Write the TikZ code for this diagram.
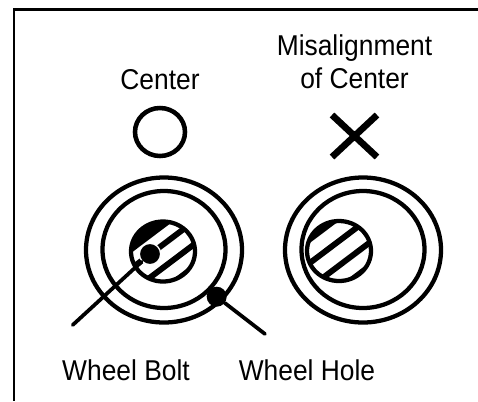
\documentclass[tikz,border=0pt]{standalone}
\usepackage{fontspec}
\setmainfont{Liberation Sans}
\usetikzlibrary{positioning}
\tikzset{
  wheelline/.style={line width=3.2pt},
  caption/.style={font=\fontsize{21.5}{24.75}\selectfont,align=center,inner sep=0pt,xscale=0.92,transform shape},
  pindot/.style={circle,fill=black,inner sep=0pt,minimum size=15pt},
  leader/.style={line width=2.8pt,line cap=round}
}
\newcommand{\hubhatch}[6]{
  \begin{scope}
  \clip (#1,#2) ellipse (32 and 30);
  \begin{scope}[shift={(#1,#2)},rotate=37]
  \fill (-50,-50) rectangle (50,#3);
  \fill (-50,#6) rectangle (50,50);
  \foreach \d in {#4,#5} \draw[line width=4.4pt] (-50,\d) -- (50,\d);
  \end{scope}
  \end{scope}
  \draw[wheelline] (#1,#2) ellipse (32 and 30);
}
\begin{document}
\begin{tikzpicture}[x=0.75pt,y=-0.75pt]
\useasboundingbox (0,0) rectangle (478,401);
\draw[line width=2.1pt] (478,9.5) -- (14,9.5) -- (14,401);
\node[caption,anchor=base] (center) at (160,89) {Center};
\node[caption] (misalign) at (354.5,61.5) {Misalignment\\of Center};
\draw[line width=3.4pt] (160,132) ellipse (25 and 24);
\draw[line width=5pt] (332,115) -- (377,157) (332,157) -- (377,115);
\foreach \cx in {164,363} {
  \draw[wheelline] (\cx,250) ellipse (78 and 72.5);
  \draw[wheelline] (\cx,249.5) ellipse (61.5 and 58.5);
}
\hubhatch{163}{251.5}{-18}{-5.5}{13}{28}
\hubhatch{339}{251}{-24}{-8}{11.7}{27.5}
\node[pindot,draw=white,line width=1pt,minimum size=16pt] (bolt) at (150,254) {};
\node[pindot] (hole) at (216.7,296.7) {};
\coordinate (boltend) at (72.7,325);
\coordinate (holeend) at (265,334);
\draw[leader] (bolt) -- (boltend);
\draw[leader] (hole) -- (holeend);
\node[caption,anchor=base] (boltlabel) at (126,380.7) {Wheel Bolt};
\node[caption,anchor=base] (holelabel) at (307,380.7) {Wheel Hole};
\end{tikzpicture}
\end{document}
